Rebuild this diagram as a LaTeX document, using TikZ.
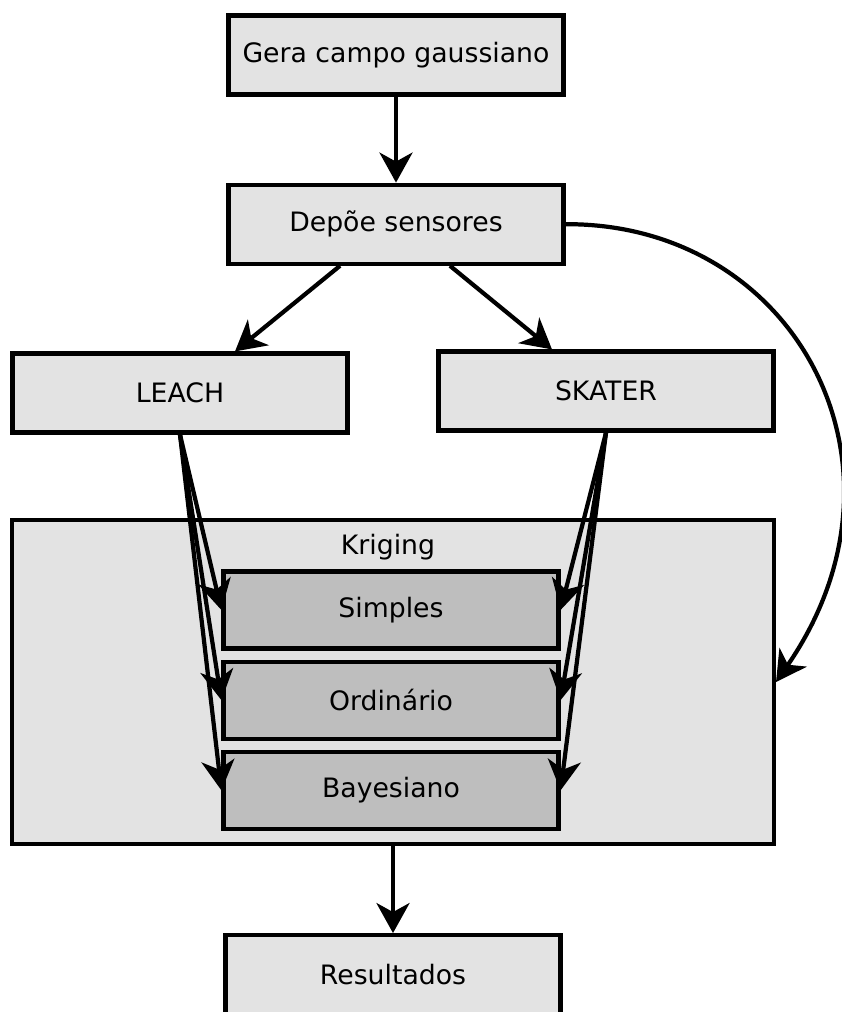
\documentclass[tikz,border=0pt]{standalone}
\usepackage{fontspec}
\setmainfont{DejaVu Sans}
\usepackage{xcolor}
\usetikzlibrary{arrows.meta,positioning,calc}
\definecolor{boxfill}{RGB}{227,227,227}
\definecolor{subfill}{RGB}{190,190,190}

\begin{document}
\begin{tikzpicture}[x=0.02cm,y=-0.02cm,line width=2.4pt,
  box/.style={draw,fill=boxfill,minimum width=6.7cm,minimum height=1.58cm,
              align=center,font=\fontsize{15.2}{18}\selectfont},
  sub/.style={box,fill=subfill,minimum height=1.54cm},
  arr/.style={-{Stealth[length=0.6cm,width=0.66cm,inset=0.18cm]}}]
  \clip (0,0) rectangle (842,1012);
  % top of the chain
  \node[box] (gera) at (396,55) {Gera campo gaussiano};
  \node[box,below=1.72cm of gera] (depoe) {Depõe sensores};
  \node[box] (leach) at (180,393) {LEACH};
  \node[box] (skater) at (606,391) {SKATER};
  % kriging block with its three variants
  \node[box,minimum width=15.24cm,minimum height=6.48cm] (krig) at (393,682) {};
  \node[font=\fontsize{15.2}{18}\selectfont] (krigtitle) at (388,547) {Kriging};
  \node[sub] (simples) at (391,610) {Simples};
  \node[sub,below=0.18cm of simples] (ordin) {Ordinário};
  \node[sub,below=0.18cm of ordin] (bayes) {Bayesiano};
  \node[box,below=1.74cm of krig] (result) {Resultados};
  % connectors
  \draw[arr] (gera) -- (depoe);
  \draw[arr] ([xshift=-1.12cm]depoe.south) -- ([xshift=1.1cm]leach.north);
  \draw[arr] ([xshift=1.08cm]depoe.south) -- ([xshift=-1.08cm]skater.north);
  \draw[arr] (depoe.east) .. controls (795,223) and (926,465) .. (krig.east);
  \foreach \k in {simples,ordin,bayes} {
    \draw[arr] (leach.south) -- (\k.west);
    \draw[arr] (skater.south) -- (\k.east);
  }
  \draw[arr] (krig) -- (result);
\end{tikzpicture}
\end{document}
